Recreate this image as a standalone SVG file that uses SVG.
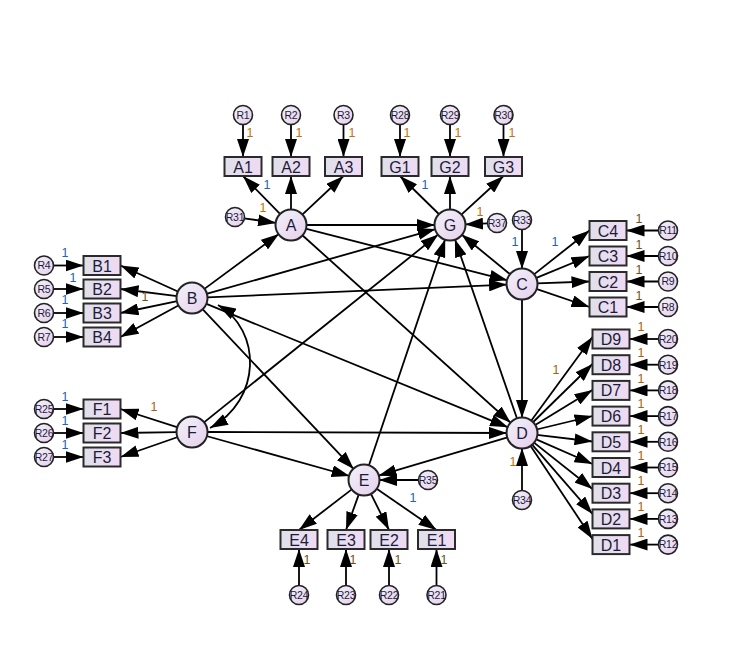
<svg xmlns="http://www.w3.org/2000/svg" width="744" height="667" viewBox="0 0 744 667">
<defs>
<linearGradient id="gb" x1="0" y1="0" x2="1" y2="0"><stop offset="0" stop-color="#dfe0ea"/><stop offset="1" stop-color="#f0daf3"/></linearGradient>
<linearGradient id="gc" x1="0" y1="0" x2="1" y2="1"><stop offset="0" stop-color="#f2f2fb"/><stop offset="1" stop-color="#e6cfea"/></linearGradient>
<marker id="ah" markerUnits="userSpaceOnUse" markerWidth="18" markerHeight="12" refX="18" refY="6" orient="auto"><path d="M0,0 L18,6 L0,12 z" fill="#000"/></marker>
<marker id="as" markerUnits="userSpaceOnUse" markerWidth="18" markerHeight="12" refX="18" refY="6" orient="auto-start-reverse"><path d="M0,0 L18,6 L0,12 z" fill="#000"/></marker>
<style>
.c line,.c path{stroke:#000;stroke-width:1.8;fill:none;marker-end:url(#ah)}
.box{fill:url(#gb);stroke:#2a2a2a;stroke-width:2}
.lat{fill:url(#gc);stroke:#222;stroke-width:2}
.err{fill:url(#gc);stroke:#222;stroke-width:1.6}
.bt{font-family:"Liberation Sans",Arial,sans-serif;font-size:16px;fill:#1c1c3a;text-anchor:middle}
.et{font-family:"Liberation Sans",Arial,sans-serif;font-size:10.5px;fill:#1c1c3a;text-anchor:middle;letter-spacing:-0.3px}
.w{font-family:"Liberation Sans",Arial,sans-serif;font-size:12.5px;text-anchor:middle}
.o{fill:#c07400}.b{fill:#2062b4}.k{fill:#6e5210}.r{fill:#a86200}
</style>
</defs>
<rect width="744" height="667" fill="#fff"/>
<g id="connectors" class="c">
<line x1="280.5" y1="214.3" x2="243" y2="176"/>
<line x1="291" y1="210" x2="291" y2="176"/>
<line x1="302" y1="214.8" x2="343.5" y2="176"/>
<line x1="439.3" y1="214.5" x2="400" y2="176"/>
<line x1="450" y1="210" x2="450" y2="176"/>
<line x1="461.1" y1="214.9" x2="503.5" y2="176"/>
<line x1="243" y1="124.5" x2="243" y2="157"/>
<line x1="291" y1="124.5" x2="291" y2="157"/>
<line x1="343.5" y1="124.5" x2="343.5" y2="157"/>
<line x1="400" y1="124.5" x2="400" y2="157"/>
<line x1="450" y1="124.5" x2="450" y2="157"/>
<line x1="503.5" y1="124.5" x2="503.5" y2="157"/>
<line x1="243.9" y1="218.3" x2="276" y2="222.9"/>
<line x1="488" y1="223.4" x2="465" y2="224.4"/>
<line x1="522" y1="229.5" x2="522" y2="269"/>
<line x1="178.4" y1="291.8" x2="120.5" y2="265.5"/>
<line x1="177.1" y1="296.1" x2="120.5" y2="289"/>
<line x1="177.3" y1="301.1" x2="120.5" y2="313"/>
<line x1="178.8" y1="305.2" x2="120.5" y2="337"/>
<line x1="53.5" y1="265.5" x2="83.5" y2="265.5"/>
<line x1="53.5" y1="289" x2="83.5" y2="289"/>
<line x1="53.5" y1="313" x2="83.5" y2="313"/>
<line x1="53.5" y1="337" x2="83.5" y2="337"/>
<line x1="177.7" y1="427.4" x2="120.5" y2="409"/>
<line x1="177" y1="432.2" x2="120.5" y2="433"/>
<line x1="177.9" y1="437" x2="120.5" y2="457"/>
<line x1="53.5" y1="409" x2="83.5" y2="409"/>
<line x1="53.5" y1="433" x2="83.5" y2="433"/>
<line x1="53.5" y1="457" x2="83.5" y2="457"/>
<line x1="533.7" y1="274.6" x2="589.5" y2="230.5"/>
<line x1="535.8" y1="278.2" x2="589.5" y2="256"/>
<line x1="537" y1="283.4" x2="589.5" y2="281.5"/>
<line x1="536.2" y1="288.9" x2="589.5" y2="307"/>
<line x1="658.5" y1="230.5" x2="626.5" y2="230.5"/>
<line x1="658.5" y1="256" x2="626.5" y2="256"/>
<line x1="658.5" y1="281.5" x2="626.5" y2="281.5"/>
<line x1="658.5" y1="307" x2="626.5" y2="307"/>
<line x1="531" y1="421" x2="592.5" y2="337"/>
<line x1="532.7" y1="422.5" x2="592.5" y2="364"/>
<line x1="534.8" y1="425.2" x2="592.5" y2="390"/>
<line x1="536.6" y1="429.5" x2="592.5" y2="416"/>
<line x1="536.9" y1="434.9" x2="592.5" y2="441.5"/>
<line x1="535.7" y1="439.1" x2="592.5" y2="464"/>
<line x1="533.7" y1="442.4" x2="592.5" y2="489"/>
<line x1="531.9" y1="444.4" x2="592.5" y2="514"/>
<line x1="530.3" y1="445.5" x2="592.5" y2="539"/>
<line x1="658.5" y1="339" x2="629.5" y2="339"/>
<line x1="658.5" y1="364.7" x2="629.5" y2="364.7"/>
<line x1="658.5" y1="390.4" x2="629.5" y2="390.4"/>
<line x1="658.5" y1="416.1" x2="629.5" y2="416.1"/>
<line x1="658.5" y1="441.8" x2="629.5" y2="441.8"/>
<line x1="658.5" y1="467.5" x2="629.5" y2="467.5"/>
<line x1="658.5" y1="493.2" x2="629.5" y2="493.2"/>
<line x1="658.5" y1="518.9" x2="629.5" y2="518.9"/>
<line x1="658.5" y1="544.6" x2="629.5" y2="544.6"/>
<line x1="352.1" y1="489.1" x2="299" y2="530"/>
<line x1="358.9" y1="494.1" x2="346" y2="530"/>
<line x1="370.7" y1="493.4" x2="389" y2="530"/>
<line x1="376.3" y1="488.5" x2="436.5" y2="530"/>
<line x1="299" y1="585.5" x2="299" y2="549"/>
<line x1="346" y1="585.5" x2="346" y2="549"/>
<line x1="389" y1="585.5" x2="389" y2="549"/>
<line x1="436.5" y1="585.5" x2="436.5" y2="549"/>
<line x1="522" y1="490.5" x2="522" y2="448"/>
<line x1="418.5" y1="480" x2="379" y2="480"/>
<line x1="204.1" y1="289.1" x2="278.9" y2="233.9"/>
<line x1="306" y1="225" x2="435" y2="225"/>
<line x1="305.5" y1="228.7" x2="507.5" y2="280.3"/>
<line x1="302.1" y1="235" x2="510.9" y2="423"/>
<line x1="206.4" y1="293.9" x2="435.6" y2="229.1"/>
<line x1="207" y1="297.4" x2="507" y2="284.6"/>
<line x1="205.9" y1="303.7" x2="508.1" y2="427.3"/>
<line x1="202.3" y1="308.9" x2="353.7" y2="469.1"/>
<line x1="203.7" y1="422.6" x2="438.3" y2="234.4"/>
<line x1="207" y1="432" x2="507" y2="433"/>
<line x1="206.4" y1="436" x2="349.6" y2="476"/>
<line x1="368.8" y1="465.8" x2="445.2" y2="239.2"/>
<line x1="517.1" y1="418.8" x2="454.9" y2="239.2"/>
<line x1="510.4" y1="274.5" x2="461.6" y2="234.5"/>
<line x1="522" y1="299" x2="522" y2="418"/>
<line x1="507.6" y1="437.3" x2="378.4" y2="475.7"/>
<path d="M218,305 C262,330 262,400 210,428" style="marker-start:url(#as)"/>
</g>
<g id="labels">
<text class="w o" x="250" y="136.5">1</text>
<text class="w o" x="299" y="136.5">1</text>
<text class="w o" x="352" y="136.5">1</text>
<text class="w o" x="407" y="136.5">1</text>
<text class="w o" x="458" y="136.5">1</text>
<text class="w o" x="512" y="136.5">1</text>
<text class="w b" x="267" y="189">1</text>
<text class="w o" x="263" y="212">1</text>
<text class="w b" x="425" y="189">1</text>
<text class="w o" x="480" y="216">1</text>
<text class="w b" x="515" y="246">1</text>
<text class="w b" x="555" y="246">1</text>
<text class="w k" x="639" y="223">1</text>
<text class="w k" x="639" y="249">1</text>
<text class="w k" x="639" y="274">1</text>
<text class="w k" x="639" y="300">1</text>
<text class="w r" x="641" y="331">1</text>
<text class="w r" x="641" y="357">1</text>
<text class="w r" x="641" y="382.5">1</text>
<text class="w r" x="641" y="408">1</text>
<text class="w r" x="641" y="434">1</text>
<text class="w r" x="641" y="459.5">1</text>
<text class="w r" x="641" y="485">1</text>
<text class="w r" x="641" y="511">1</text>
<text class="w r" x="641" y="536.5">1</text>
<text class="w r" x="556" y="374">1</text>
<text class="w o" x="513" y="466">1</text>
<text class="w b" x="65" y="257">1</text>
<text class="w b" x="73" y="282">1</text>
<text class="w b" x="65" y="304">1</text>
<text class="w b" x="65" y="328">1</text>
<text class="w k" x="145" y="301">1</text>
<text class="w r" x="154" y="411">1</text>
<text class="w b" x="65" y="401">1</text>
<text class="w b" x="65" y="425">1</text>
<text class="w b" x="65" y="449">1</text>
<text class="w b" x="413" y="502">1</text>
<text class="w k" x="307" y="564">1</text>
<text class="w k" x="353" y="564">1</text>
<text class="w k" x="398" y="564">1</text>
<text class="w k" x="444" y="564">1</text>
</g>
<g id="A"><circle class="lat" cx="291" cy="225" r="15.5"/><text class="bt" x="291" y="231">A</text></g>
<g id="G"><circle class="lat" cx="450" cy="225" r="15.5"/><text class="bt" x="450" y="231">G</text></g>
<g id="B"><circle class="lat" cx="192" cy="298" r="15.5"/><text class="bt" x="192" y="304">B</text></g>
<g id="C"><circle class="lat" cx="522" cy="284" r="15.5"/><text class="bt" x="522" y="290">C</text></g>
<g id="F"><circle class="lat" cx="192" cy="432" r="15.5"/><text class="bt" x="192" y="438">F</text></g>
<g id="D"><circle class="lat" cx="522" cy="433" r="15.5"/><text class="bt" x="522" y="439">D</text></g>
<g id="E"><circle class="lat" cx="364" cy="480" r="15.5"/><text class="bt" x="364" y="486">E</text></g>
<g id="A1"><rect class="box" x="224.5" y="157" width="37" height="19"/><text class="bt" x="243" y="172.5">A1</text></g>
<g id="A2"><rect class="box" x="272.5" y="157" width="37" height="19"/><text class="bt" x="291" y="172.5">A2</text></g>
<g id="A3"><rect class="box" x="325" y="157" width="37" height="19"/><text class="bt" x="343.5" y="172.5">A3</text></g>
<g id="G1"><rect class="box" x="381.5" y="157" width="37" height="19"/><text class="bt" x="400" y="172.5">G1</text></g>
<g id="G2"><rect class="box" x="431.5" y="157" width="37" height="19"/><text class="bt" x="450" y="172.5">G2</text></g>
<g id="G3"><rect class="box" x="485" y="157" width="37" height="19"/><text class="bt" x="503.5" y="172.5">G3</text></g>
<g id="B1"><rect class="box" x="83.5" y="256" width="37" height="19"/><text class="bt" x="102" y="271.5">B1</text></g>
<g id="B2"><rect class="box" x="83.5" y="279.5" width="37" height="19"/><text class="bt" x="102" y="295">B2</text></g>
<g id="B3"><rect class="box" x="83.5" y="303.5" width="37" height="19"/><text class="bt" x="102" y="319">B3</text></g>
<g id="B4"><rect class="box" x="83.5" y="327.5" width="37" height="19"/><text class="bt" x="102" y="343">B4</text></g>
<g id="F1"><rect class="box" x="83.5" y="399.5" width="37" height="19"/><text class="bt" x="102" y="415">F1</text></g>
<g id="F2"><rect class="box" x="83.5" y="423.5" width="37" height="19"/><text class="bt" x="102" y="439">F2</text></g>
<g id="F3"><rect class="box" x="83.5" y="447.5" width="37" height="19"/><text class="bt" x="102" y="463">F3</text></g>
<g id="C4"><rect class="box" x="589.5" y="221" width="37" height="19"/><text class="bt" x="608" y="236.5">C4</text></g>
<g id="C3"><rect class="box" x="589.5" y="246.5" width="37" height="19"/><text class="bt" x="608" y="262">C3</text></g>
<g id="C2"><rect class="box" x="589.5" y="272" width="37" height="19"/><text class="bt" x="608" y="287.5">C2</text></g>
<g id="C1"><rect class="box" x="589.5" y="297.5" width="37" height="19"/><text class="bt" x="608" y="313">C1</text></g>
<g id="D9"><rect class="box" x="592.5" y="329.5" width="37" height="19"/><text class="bt" x="611" y="345">D9</text></g>
<g id="D8"><rect class="box" x="592.5" y="355.2" width="37" height="19"/><text class="bt" x="611" y="370.7">D8</text></g>
<g id="D7"><rect class="box" x="592.5" y="380.9" width="37" height="19"/><text class="bt" x="611" y="396.4">D7</text></g>
<g id="D6"><rect class="box" x="592.5" y="406.6" width="37" height="19"/><text class="bt" x="611" y="422.1">D6</text></g>
<g id="D5"><rect class="box" x="592.5" y="432.3" width="37" height="19"/><text class="bt" x="611" y="447.8">D5</text></g>
<g id="D4"><rect class="box" x="592.5" y="458" width="37" height="19"/><text class="bt" x="611" y="473.5">D4</text></g>
<g id="D3"><rect class="box" x="592.5" y="483.7" width="37" height="19"/><text class="bt" x="611" y="499.2">D3</text></g>
<g id="D2"><rect class="box" x="592.5" y="509.4" width="37" height="19"/><text class="bt" x="611" y="524.9">D2</text></g>
<g id="D1"><rect class="box" x="592.5" y="535.1" width="37" height="19"/><text class="bt" x="611" y="550.6">D1</text></g>
<g id="E4"><rect class="box" x="280.5" y="530" width="37" height="19"/><text class="bt" x="299" y="545.5">E4</text></g>
<g id="E3"><rect class="box" x="327.5" y="530" width="37" height="19"/><text class="bt" x="346" y="545.5">E3</text></g>
<g id="E2"><rect class="box" x="370.5" y="530" width="37" height="19"/><text class="bt" x="389" y="545.5">E2</text></g>
<g id="E1"><rect class="box" x="418" y="530" width="37" height="19"/><text class="bt" x="436.5" y="545.5">E1</text></g>
<g id="R1"><circle class="err" cx="243" cy="115" r="9.5"/><text class="et" x="243" y="118.8">R1</text></g>
<g id="R2"><circle class="err" cx="291" cy="115" r="9.5"/><text class="et" x="291" y="118.8">R2</text></g>
<g id="R3"><circle class="err" cx="343.5" cy="115" r="9.5"/><text class="et" x="343.5" y="118.8">R3</text></g>
<g id="R28"><circle class="err" cx="400" cy="115" r="9.5"/><text class="et" x="400" y="118.8">R28</text></g>
<g id="R29"><circle class="err" cx="450" cy="115" r="9.5"/><text class="et" x="450" y="118.8">R29</text></g>
<g id="R30"><circle class="err" cx="503.5" cy="115" r="9.5"/><text class="et" x="503.5" y="118.8">R30</text></g>
<g id="R31"><circle class="err" cx="235" cy="217" r="9.5"/><text class="et" x="235" y="220.8">R31</text></g>
<g id="R37"><circle class="err" cx="497" cy="223" r="9.5"/><text class="et" x="497" y="226.8">R37</text></g>
<g id="R33"><circle class="err" cx="522" cy="220" r="9.5"/><text class="et" x="522" y="223.8">R33</text></g>
<g id="R4"><circle class="err" cx="44" cy="265.5" r="9.5"/><text class="et" x="44" y="269.3">R4</text></g>
<g id="R5"><circle class="err" cx="44" cy="289" r="9.5"/><text class="et" x="44" y="292.8">R5</text></g>
<g id="R6"><circle class="err" cx="44" cy="313" r="9.5"/><text class="et" x="44" y="316.8">R6</text></g>
<g id="R7"><circle class="err" cx="44" cy="337" r="9.5"/><text class="et" x="44" y="340.8">R7</text></g>
<g id="R25"><circle class="err" cx="44" cy="409" r="9.5"/><text class="et" x="44" y="412.8">R25</text></g>
<g id="R26"><circle class="err" cx="44" cy="433" r="9.5"/><text class="et" x="44" y="436.8">R26</text></g>
<g id="R27"><circle class="err" cx="44" cy="457" r="9.5"/><text class="et" x="44" y="460.8">R27</text></g>
<g id="R11"><circle class="err" cx="668" cy="230.5" r="9.5"/><text class="et" x="668" y="234.3">R11</text></g>
<g id="R10"><circle class="err" cx="668" cy="256" r="9.5"/><text class="et" x="668" y="259.8">R10</text></g>
<g id="R9"><circle class="err" cx="668" cy="281.5" r="9.5"/><text class="et" x="668" y="285.3">R9</text></g>
<g id="R8"><circle class="err" cx="668" cy="307" r="9.5"/><text class="et" x="668" y="310.8">R8</text></g>
<g id="R20"><circle class="err" cx="668" cy="339" r="9.5"/><text class="et" x="668" y="342.8">R20</text></g>
<g id="R19"><circle class="err" cx="668" cy="364.7" r="9.5"/><text class="et" x="668" y="368.5">R19</text></g>
<g id="R18"><circle class="err" cx="668" cy="390.4" r="9.5"/><text class="et" x="668" y="394.2">R18</text></g>
<g id="R17"><circle class="err" cx="668" cy="416.1" r="9.5"/><text class="et" x="668" y="419.9">R17</text></g>
<g id="R16"><circle class="err" cx="668" cy="441.8" r="9.5"/><text class="et" x="668" y="445.6">R16</text></g>
<g id="R15"><circle class="err" cx="668" cy="467.5" r="9.5"/><text class="et" x="668" y="471.3">R15</text></g>
<g id="R14"><circle class="err" cx="668" cy="493.2" r="9.5"/><text class="et" x="668" y="497">R14</text></g>
<g id="R13"><circle class="err" cx="668" cy="518.9" r="9.5"/><text class="et" x="668" y="522.7">R13</text></g>
<g id="R12"><circle class="err" cx="668" cy="544.6" r="9.5"/><text class="et" x="668" y="548.4">R12</text></g>
<g id="R24"><circle class="err" cx="299" cy="595" r="9.5"/><text class="et" x="299" y="598.8">R24</text></g>
<g id="R23"><circle class="err" cx="346" cy="595" r="9.5"/><text class="et" x="346" y="598.8">R23</text></g>
<g id="R22"><circle class="err" cx="389" cy="595" r="9.5"/><text class="et" x="389" y="598.8">R22</text></g>
<g id="R21"><circle class="err" cx="436.5" cy="595" r="9.5"/><text class="et" x="436.5" y="598.8">R21</text></g>
<g id="R34"><circle class="err" cx="522" cy="500" r="9.5"/><text class="et" x="522" y="503.8">R34</text></g>
<g id="R35"><circle class="err" cx="428" cy="480" r="9.5"/><text class="et" x="428" y="483.8">R35</text></g>
</svg>
